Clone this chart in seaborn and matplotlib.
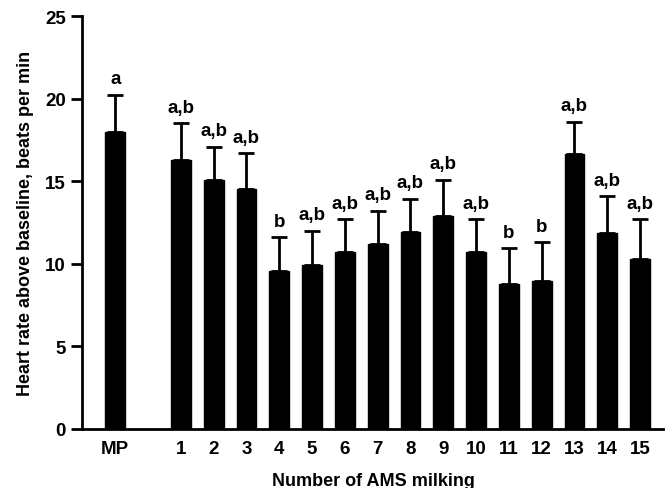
import numpy as np
import pandas as pd
import matplotlib
matplotlib.use("Agg")
import matplotlib.pyplot as plt
import seaborn as sns

categories = ["MP", "1", "2", "3", "4", "5", "6", "7", "8", "9", "10", "11", "12", "13", "14", "15"]
means = [18.0, 16.3, 15.1, 14.5, 9.55, 9.95, 10.7, 11.2, 11.95, 12.9, 10.7, 8.8, 8.95, 16.65, 11.85, 10.3]
err_top = [20.25, 18.5, 17.1, 16.7, 11.6, 12.0, 12.7, 13.2, 13.95, 15.1, 12.7, 10.95, 11.3, 18.6, 14.1, 12.7]
letters = ["a", "a,b", "a,b", "a,b", "b", "a,b", "a,b", "a,b", "a,b", "a,b", "a,b", "b", "b", "a,b", "a,b", "a,b"]
y_ticks = [0, 5, 10, 15, 20, 25]

sns.set_style("ticks", {"axes.edgecolor": "black", "text.color": "black",
                        "xtick.color": "black", "ytick.color": "black",
                        "axes.labelcolor": "black"})
plt.rcParams["font.family"] = ["Liberation Sans", "DejaVu Sans"]
plt.rcParams["font.weight"] = "bold"

order = ["MP", " "] + categories[1:]
df = pd.DataFrame({"cat": categories, "val": means})

fig = plt.figure(figsize=(6.65, 4.89), dpi=100)
ax = fig.add_axes([0.124, 0.121, 0.876, 0.844])

sns.barplot(data=df, x="cat", y="val", order=order, color="black",
            width=0.6, saturation=1, errorbar=None, ax=ax, edgecolor="black")

pos = [order.index(c) for c in categories]
yerr = np.array(err_top) - np.array(means)
ax.errorbar(pos, means, yerr=[np.zeros(len(means)), yerr], fmt="none",
            ecolor="black", elinewidth=2, capsize=6, capthick=2)

for x, top, lab in zip(pos, err_top, letters):
    ax.text(x, top + 0.45, lab, ha="center", va="bottom", fontsize=13.5,
            fontweight="bold", color="black")

ax.set_ylim(0, 25)
ax.set_xlim(-1.0, 16.76)
ax.set_yticks(y_ticks)
ax.set_xticks(range(len(order)))
ax.set_xticklabels(order)
ax.tick_params(axis="x", length=0, labelsize=13.5, pad=8, colors="black")
ax.tick_params(axis="y", length=8, width=2, labelsize=13.5, pad=4, colors="black")
for lab in ax.get_xticklabels() + ax.get_yticklabels():
    lab.set_fontweight("bold")

sns.despine(ax=ax)
ax.spines["left"].set_linewidth(2)
ax.spines["bottom"].set_linewidth(2)
ax.spines["left"].set_color("black")
ax.spines["bottom"].set_color("black")

ax.set_xlabel("Number of AMS milking", fontsize=13, fontweight="bold", labelpad=11, color="black")
ax.set_ylabel("Heart rate above baseline, beats per min", fontsize=13,
              fontweight="bold", labelpad=8, color="black")

fig.savefig("out.png", dpi=100)
